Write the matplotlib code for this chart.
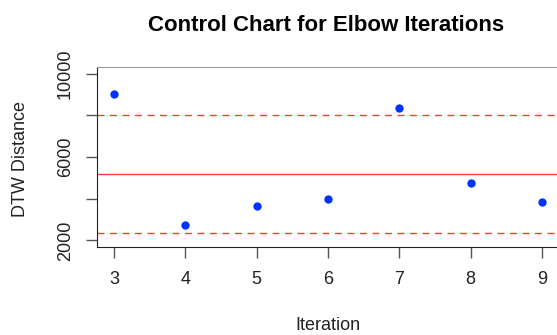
import matplotlib.pyplot as plt

plt.rcParams['font.family'] = ['Liberation Sans', 'DejaVu Sans']

# elbow iterations and their DTW distances
iterations = [3, 4, 5, 6, 7, 8, 9]
dtw_distance = [9040, 2720, 3660, 3990, 8370, 4750, 3850]

# control limits
center_line = 5198
upper_limit = 8030
lower_limit = 2370

y_ticks = [2000, 4000, 6000, 8000, 10000]
y_tick_labels = ['2000', '', '6000', '', '10000']

W, H = 557, 335
fig = plt.figure(figsize=(W / 100, H / 100), dpi=100)
ax = fig.add_axes([97 / W, 88 / H, 462 / W, 180 / H])

ax.axhline(center_line, color='#ff3b2f', lw=1.0)
ax.axhline(upper_limit, color='#ff3b2f', lw=1.0, ls=(0, (5, 4)))
ax.axhline(lower_limit, color='#ff3b2f', lw=1.0, ls=(0, (5, 4)))
ax.plot(iterations, dtw_distance, 'o', color='#0033ff', ms=6, mec='none', zorder=3)

ax.set_xlim(2.76, 9.24)
ax.set_ylim(1680, 10320)
ax.set_xticks(iterations)
ax.set_yticks(y_ticks)
ax.set_yticklabels(y_tick_labels, rotation=90, va='center')

for side in ['left', 'bottom']:
    ax.spines[side].set_color('#222222')
ax.spines['top'].set_color('#999999')
ax.spines['right'].set_color('#999999')
ax.tick_params(length=8, width=1, color='#555555', labelsize=13, labelcolor='#222222')
ax.tick_params(axis='x', pad=9.5)
ax.tick_params(axis='y', pad=8.5)

# title and axis labels placed in pixel coordinates
fig.text(326 / W, 1 - 31 / H, 'Control Chart for Elbow Iterations',
         fontsize=16, fontweight='bold', ha='center', va='baseline')
fig.text(328 / W, 1 - 330.5 / H, 'Iteration', fontsize=13, color='#222222',
         ha='center', va='baseline')
fig.text(29 / W, 1 - 158.5 / H, 'DTW Distance', fontsize=13, color='#222222',
         rotation=90, ha='right', va='center')

fig.savefig('out.png', dpi=100)
